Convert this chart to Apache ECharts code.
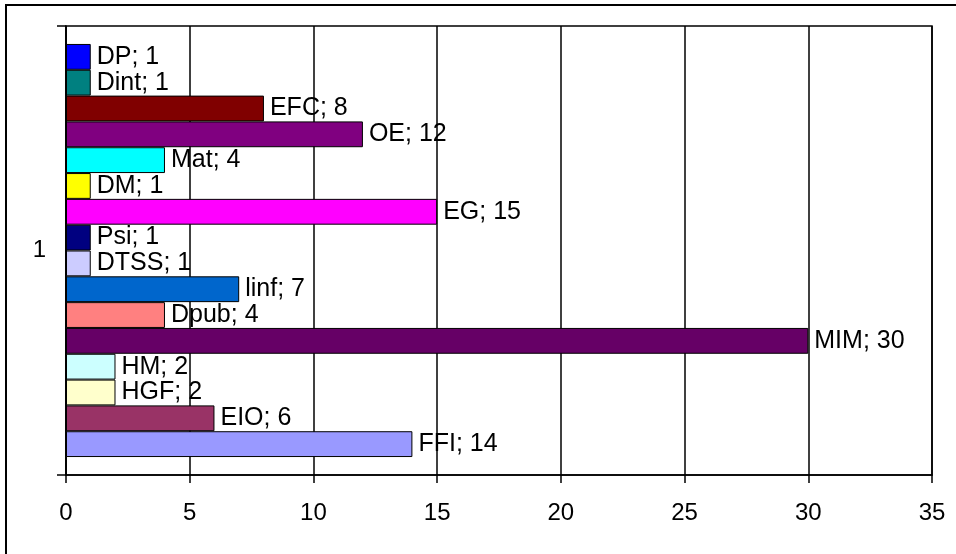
<!DOCTYPE html>
<html>
<head>
<meta charset="utf-8">
<script src="https://cdn.jsdelivr.net/npm/echarts@6/dist/echarts.min.js"></script>
<style>
html,body{margin:0;padding:0;background:#fff;}
#chart{width:956px;height:554px;}
</style>
</head>
<body>
<div id="chart"></div>
<script>
// Data, listed bottom-to-top as in the reference
const categories = ['1'];
const seriesNames = ['FFI','EIO','HGF','HM','MIM','Dpub','linf','DTSS','Psi','EG','DM','Mat','OE','EFC','Dint','DP'];
const seriesValues = [14, 6, 2, 2, 30, 4, 7, 1, 1, 15, 1, 4, 12, 8, 1, 1];
const seriesColors = ['#9999FF','#993366','#FFFFCC','#CCFFFF','#660066','#FF8080','#0066CC','#CCCCFF','#000080','#FF00FF','#FFFF00','#00FFFF','#800080','#800000','#008080','#0000FF'];
const xTicks = [0, 5, 10, 15, 20, 25, 30, 35];

const font = 'Arial, "Liberation Sans", sans-serif';
const chart = echarts.init(document.getElementById('chart'), null, {renderer: 'canvas'});

// ECharts stacks horizontal bar series top-to-bottom, so feed them in reverse order
const order = seriesNames.map((_, i) => i).reverse();
const series = order.map(i => ({
  name: seriesNames[i],
  type: 'bar',
  data: [seriesValues[i]],
  barGap: '0%',
  barCategoryGap: '8%',
  itemStyle: {color: seriesColors[i], borderColor: '#000', borderWidth: 1},
  label: {
    show: true,
    position: 'right',
    distance: 6,
    formatter: '{a}; {c}',
    color: '#000',
    fontFamily: font,
    fontSize: 25
  },
  emphasis: {disabled: true},
  animation: false
}));

chart.setOption({
  backgroundColor: '#fff',
  animation: false,
  graphic: [{
    type: 'rect',
    shape: {x: 6, y: 5, width: 960, height: 560},
    style: {fill: null, stroke: '#000', lineWidth: 2},
    silent: true,
    z: 100
  }],
  grid: {
    left: 66, right: 24, top: 26, bottom: 79,
    show: true,
    borderColor: '#000',
    borderWidth: 1.5,
    backgroundColor: '#fff'
  },
  xAxis: {
    type: 'value',
    min: xTicks[0],
    max: xTicks[xTicks.length - 1],
    interval: xTicks[1] - xTicks[0],
    axisLine: {show: true, lineStyle: {color: '#000', width: 1.5}},
    axisTick: {show: true, length: 8, lineStyle: {color: '#000', width: 1.5}},
    splitLine: {show: true, lineStyle: {color: '#000', width: 1.5}},
    axisLabel: {color: '#000', fontFamily: font, fontSize: 24, margin: 26}
  },
  yAxis: {
    type: 'category',
    data: categories,
    axisLine: {show: true, lineStyle: {color: '#000', width: 1.5}},
    axisTick: {show: true, length: 9, lineStyle: {color: '#000', width: 1.5}},
    axisLabel: {color: '#000', fontFamily: font, fontSize: 24, margin: 20}
  },
  series: series
});
</script>
</body>
</html>
